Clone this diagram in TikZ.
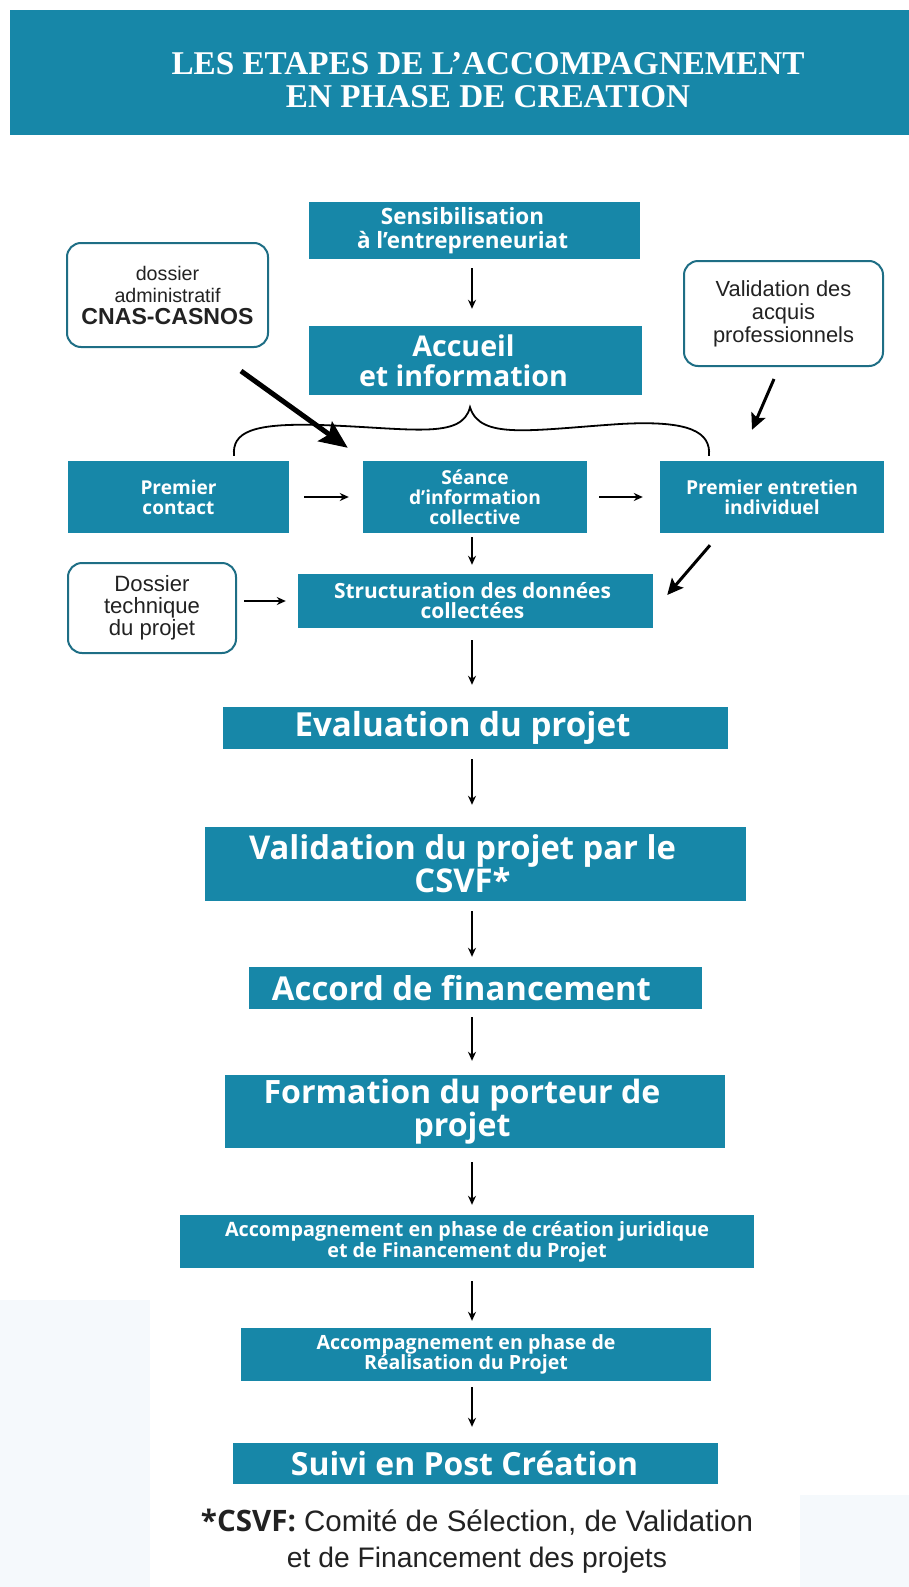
\documentclass[tikz,border=0pt]{standalone}
\usepackage{fontspec}
\usepackage{graphicx}
\usetikzlibrary{arrows.meta,calc}
\newfontfamily\bxfont{Open Sans}
\newfontfamily\ttlfont{Liberation Serif}
\newfontfamily\rgfont{Liberation Sans}
\definecolor{teal1}{HTML}{1787A8}
\definecolor{tealdark}{HTML}{1E6E85}
\definecolor{txtdark}{HTML}{222222}
\definecolor{wm}{HTML}{F5F9FC}
\newcommand{\fl}[2]{\resizebox{#1pt}{!}{#2}}
\newlength\fltmp
\newcommand{\setfac}[2]{\settowidth{\fltmp}{#2}\pgfmathsetmacro\flfac{#1/\fltmp}\xdef\curfac{\flfac}}
\newcommand{\fb}[1]{\scalebox{\curfac}{#1}}
% shift a centred line to the left by #1/2
\newcommand{\ls}[1]{\hspace*{#1pt}}
\begin{document}
\begin{tikzpicture}[x=1pt,y=-1pt,
  box/.style={fill=teal1, text=white, inner sep=0pt, align=center,
    font=\bxfont\bfseries\fontsize{10}{#1}\selectfont},
  box/.default=20,
  rbox/.style={draw=tealdark, line width=2pt, rounded corners=14pt, fill=white,
    text=txtdark, inner sep=0pt, align=center,
    font=\rgfont\fontsize{10}{#1}\selectfont},
  rbox/.default=22,
  arr/.style={-{Stealth[length=9pt,width=8pt]}, line width=1.6pt},
  midarr/.style={-{Stealth[length=16pt,width=15pt,inset=3pt]}, line width=3pt},
  bigarr/.style={-{Stealth[length=28pt,width=24pt,inset=5pt]}, line width=5pt}]
\useasboundingbox (0,0) rectangle (909,1587);

% faint background watermark
\fill[wm] (0,1300) rectangle (150,1587);
\fill[wm] (800,1495) rectangle (909,1587);

% title bar
\fill[teal1] (10,10) rectangle (909,135);
\node[inner sep=0pt, text=white, font=\ttlfont\bfseries\fontsize{10}{33}\selectfont,
  align=center] (title) at (488,80)
  {\setfac{633}{LES ETAPES DE L’ACCOMPAGNEMENT}\fb{LES ETAPES DE L’ACCOMPAGNEMENT}\\\fb{EN PHASE DE CREATION}};

% main column
\node[box=24, minimum width=331pt, minimum height=57pt] (sens) at (474.5,230.5)
  {\setfac{211}{à l’entrepreneuriat}\fb{Sensibilisation}\ls{24}\\\fb{à l’entrepreneuriat}\ls{24}};
\node[box=30, minimum width=333pt, minimum height=69pt] (acc) at (475.5,360.5)
  {\setfac{209}{et information}\fb{Accueil}\ls{24}\\\fb{et information}\ls{24}};

\node[box=20, minimum width=221pt, minimum height=72pt] (pc) at (178.5,497)
  {\setfac{76}{Premier}\fb{Premier}\\\fb{contact}};
\node[box=20, minimum width=224pt, minimum height=72pt] (se) at (475,497)
  {\setfac{132}{d’information}\fb{Séance}\\\fb{d’information}\\\fb{collective}};
\node[box=20, minimum width=224pt, minimum height=72pt] (pe) at (772,497)
  {\setfac{172}{Premier entretien}\fb{Premier entretien}\\\fb{individuel}};

\node[box=20, minimum width=355pt, minimum height=54pt] (st) at (475.5,601)
  {\setfac{277}{Structuration des données}\fb{Structuration des données}\ls{6}\\\fb{collectées}\ls{6}};

\node[box, minimum width=505pt, minimum height=42pt] (ev) at (475.5,728)
  {\fl{336}{Evaluation du projet}\ls{26}};
\node[box=33, minimum width=541pt, minimum height=74pt] (vc) at (475.5,864)
  {\setfac{427}{Validation du projet par le}\fb{Validation du projet par le}\ls{26}\\\fb{CSVF*}\ls{26}};
\node[box, minimum width=453pt, minimum height=42pt] (ac) at (475.5,988)
  {\fl{379}{Accord de financement}\ls{28}};
\node[box=33, minimum width=500pt, minimum height=73pt] (fo) at (475,1111.5)
  {\setfac{397}{Formation du porteur de}\fb{Formation du porteur de}\ls{26}\\\fb{projet}\ls{26}};
\node[box=18, minimum width=574pt, minimum height=53pt] (aj) at (467,1241.5)
  {\setfac{484}{Accompagnement en phase de création juridique}\fb{Accompagnement en phase de création juridique}\\\fb{et de Financement du Projet}};
\node[box=20, minimum width=470pt, minimum height=53pt] (ar) at (476,1354.5)
  {\setfac{299}{Accompagnement en phase de}\fb{Accompagnement en phase de}\ls{20}\\\fb{Réalisation du Projet}\ls{20}};
\node[box, minimum width=485pt, minimum height=41pt] (su) at (475.5,1463.5)
  {\fl{347}{Suivi en Post Création}\ls{22}};

% side rounded boxes
\node[rbox=22, minimum width=201pt, minimum height=104pt] (cn) at (167.5,295)
  {\setfac{106}{administratif}\fb{dossier}\\\fb{administratif}\\\fl{172}{\bfseries CNAS-CASNOS}};
\node[rbox=23, minimum width=199pt, minimum height=105pt] (va) at (783.5,313.5)
  {\setfac{141}{professionnels}\fb{Validation des}\\\fb{acquis}\\\fb{professionnels}};
\node[rbox=22, minimum width=168pt, minimum height=90pt] (dt) at (152,608)
  {\setfac{96}{technique}\fb{Dossier}\\\fb{technique}\\\fb{du projet}};

% footnote
\node[align=center, inner sep=0pt, text=txtdark,
  font=\rgfont\fontsize{10}{36}\selectfont] (note) at (477,1541)
  {\fl{552}{{\bxfont\bfseries *CSVF:} Comité de Sélection, de Validation}\\\fl{380}{et de Financement des projets}};

% vertical arrows
\coordinate (ax) at (472,0);
\draw[arr, shorten <=9pt, shorten >=17pt] (sens.south -| ax) -- (acc.north -| ax);
\draw[arr, shorten <=4pt, shorten >=9pt] (se.south -| ax) -- (st.north -| ax);
\draw[arr, shorten <=12pt, shorten >=22pt] (st.south -| ax) -- (ev.north -| ax);
\draw[arr, shorten <=10pt, shorten >=22pt] (ev.south -| ax) -- (vc.north -| ax);
\draw[arr, shorten <=10pt, shorten >=10pt] (vc.south -| ax) -- (ac.north -| ax);
\draw[arr, shorten <=8pt, shorten >=14pt] (ac.south -| ax) -- (fo.north -| ax);
\draw[arr, shorten <=14pt, shorten >=10pt] (fo.south -| ax) -- (aj.north -| ax);
\draw[arr, shorten <=13pt, shorten >=7pt] (aj.south -| ax) -- (ar.north -| ax);
\draw[arr, shorten <=6pt, shorten >=16pt] (ar.south -| ax) -- (su.north -| ax);

% horizontal arrows
\draw[arr, shorten <=15pt, shorten >=14pt] (pc.east) -- (se.west);
\draw[arr, shorten <=12pt, shorten >=17pt] (se.east) -- (pe.west);
\draw[arr, shorten <=7pt, shorten >=12pt] (dt.east |- st.west) -- (st.west);

% brace
\coordinate (bl) at ($(pc.north)+(55.5,-5)$);
\coordinate (br) at ($(pe.north)+(-63,-5)$);
\coordinate (bc) at ($(acc.south)+(-5.5,12)$);
\draw[line width=1.8pt] (bl) .. controls (232,432) and (252,423) .. (320,425)
  .. controls (410,428) and (462,440) .. (bc)
  .. controls (480,440) and (530,430) .. (620,424)
  .. controls (690,420) and (711,432) .. (br);

% diagonal arrows
\draw[bigarr] ($(cn.south)+(73.5,23)$) -- ($(se.north west)+(-15,-13)$);
\draw[midarr] ($(va.south)+(-9.5,12)$) -- ($(pe.north)+(-20,-31)$);
\draw[midarr] ($(pe.south)+(-62,12)$) -- ($(st.east)+(14,-6)$);
\end{tikzpicture}
\end{document}
